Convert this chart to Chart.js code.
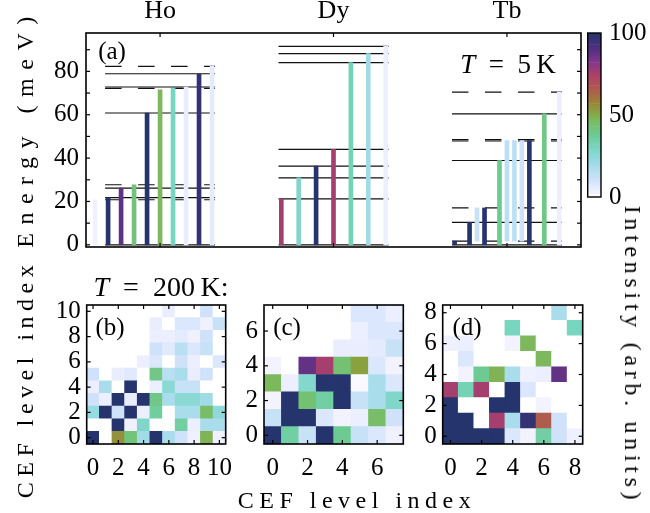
<!DOCTYPE html>
<html><head><meta charset="utf-8">
<script src="https://cdn.jsdelivr.net/npm/chart.js@4.4.1/dist/chart.umd.min.js"></script>
<style>
html,body{margin:0;padding:0;background:#fff;}
#wrap{position:relative;width:650px;height:513px;overflow:hidden;font-family:"Liberation Serif","Times New Roman",serif;color:#000;}
#wrap canvas{position:absolute;left:0;top:0;}
.lbl{position:absolute;white-space:nowrap;line-height:1;}
.ctr{transform:translate(-50%,-50%);}
.rot{transform:translate(-50%,-50%) rotate(-90deg);}
.rotcw{transform:translate(-50%,-50%) rotate(90deg);}
</style></head><body>
<div id="wrap">
<canvas id="cTop" width="650" height="513"></canvas>
<canvas id="cB" width="650" height="513"></canvas>
<canvas id="cC" width="650" height="513"></canvas>
<canvas id="cD" width="650" height="513"></canvas>
<canvas id="cBar" width="650" height="513"></canvas>
<div class="lbl rot" style="left:25px;top:128px;font-size:24px;letter-spacing:8.5px;">Energy (meV)</div>
<div class="lbl rot" style="left:25px;top:379px;font-size:24px;letter-spacing:5.5px;">CEF level index</div>
<div class="lbl ctr" style="left:357px;top:500px;font-size:24px;letter-spacing:5.5px;">CEF level index</div>
<div class="lbl rotcw" style="left:633px;top:355px;font-size:24px;letter-spacing:4.7px;">Intensity (arb. units)</div>
<div class="lbl ctr" style="left:112px;top:50px;font-size:25px;">(a)</div>
<div class="lbl ctr" style="left:508px;top:64px;font-size:27px;"><i>T</i>&ensp;=&ensp;5&thinsp;K</div>
<div class="lbl ctr" style="left:161px;top:287px;font-size:28px;"><i>T</i>&ensp;=&ensp;200&thinsp;K:</div>
<div class="lbl ctr" style="left:110px;top:326px;font-size:25px;">(b)</div>
<div class="lbl ctr" style="left:287px;top:326px;font-size:25px;">(c)</div>
<div class="lbl ctr" style="left:467px;top:326px;font-size:25px;">(d)</div>
</div>
<script>
// ---------------- DATA ----------------
const groups = ['Ho', 'Dy', 'Tb'];
const energyTicks = [0, 10, 20, 30, 40, 50, 60, 70, 80, 90];
const energyLabelStep = 20;

// Ho (T = 5 K): CEF levels (meV), dashed flags, transitions
const hoLevels  = [0, 20.8, 21.8, 26.2, 27.7, 60.8, 72.2, 72.8, 78.9, 82.3];
const hoDashed  = [false, true, false, false, true, false, true, false, false, true];
const hoBarBase = [0, 0, 0, 0, 0, 0, 0, 0, 0, 0];
const hoBarTop  = [20.8, 21.8, 26.2, 27.7, 60.8, 71.5, 72.3, 72.8, 78.8, 82.3];
const hoBarInt  = [3, 100, 88, 42, 100, 47, 30, 5, 97, 6];

// Dy
const dyLevels  = [0, 21.2, 30.9, 36.3, 44.0, 84.0, 88.2, 91.5];
const dyDashed  = [false, false, false, false, false, false, false, false];
const dyBarBase = [0, 0, 0, 0, 0, 0, 0];
const dyBarTop  = [21.2, 30.9, 36.3, 44.0, 84.0, 88.2, 91.5];
const dyBarInt  = [75, 28, 100, 75, 32, 20, 4];

// Tb
const tbLevels  = [0, 1.7, 10.4, 17.0, 38.9, 47.9, 48.5, 60.4, 70.4];
const tbDashed  = [false, true, false, true, false, true, true, false, true];
const tbBarBase = [0, 0, 1.7, 0, 0, 1.7, 1.7, 1.7, 0, 0, 0];
const tbBarTop  = [1.7, 10.4, 17.0, 17.0, 38.9, 48.1, 48.1, 48.1, 48.1, 60.4, 70.4];
const tbBarInt  = [100, 100, 12, 100, 38, 14, 14, 10, 100, 40, 4];

// T = 200 K intensity matrices, rows = y index (0 at bottom), columns = x index
const hoMatrix = [
  [100, 0, 55, 42, 20, 100, 18, 10, 3, 48, 3],
  [0, 0, 100, 3, 28, 0, 0, 35, 4, 18, 18],
  [22, 100, 10, 100, 4, 36, 0, 18, 18, 45, 24],
  [10, 4, 100, 5, 100, 40, 18, 25, 25, 20, 0],
  [4, 18, 0, 100, 0, 4, 25, 12, 12, 0, 0],
  [10, 0, 5, 7, 0, 40, 15, 18, 5, 10, 0],
  [0, 0, 0, 0, 4, 8, 0, 10, 4, 0, 8],
  [0, 0, 0, 0, 0, 10, 7, 15, 8, 12, 0],
  [0, 0, 0, 0, 0, 4, 4, 6, 3, 10, 0],
  [0, 0, 0, 0, 0, 5, 0, 8, 8, 3, 12],
  [0, 0, 0, 0, 0, 0, 5, 0, 0, 10, 0]
];
const dyMatrix = [
  [100, 35, 12, 100, 38, 12, 8, 3],
  [12, 100, 100, 8, 2, 4, 45, 10],
  [2, 100, 43, 35, 100, 12, 18, 28],
  [47, 4, 27, 100, 100, 1, 18, 8],
  [2, 0, 87, 75, 43, 52, 8, 2],
  [0, 0, 0, 0, 5, 5, 6, 12],
  [0, 0, 0, 0, 0, 4, 8, 8],
  [0, 0, 0, 0, 0, 8, 8, 4]
];
const tbMatrix = [
  [100, 100, 100, 100, 8, 2, 35, 10, 3],
  [100, 100, 0, 75, 18, 97, 65, 10, 0],
  [100, 0, 0, 100, 100, 0, 2, 0, 0],
  [75, 32, 75, 0, 100, 8, 0, 0, 0],
  [0, 2, 38, 48, 18, 3, 4, 87, 0],
  [0, 8, 0, 0, 0, 0, 47, 0, 0],
  [3, 4, 0, 0, 2, 47, 0, 0, 0],
  [0, 0, 0, 0, 30, 0, 0, 0, 30],
  [0, 0, 0, 0, 0, 0, 0, 18, 0]
];
const hoTicks = [0, 2, 4, 6, 8, 10];
const dyTicks = [0, 2, 4, 6];
const tbTicks = [0, 2, 4, 6, 8];
const colorbarTicks = [0, 50, 100];

// ---------------- LAYOUT / STYLE ----------------
const W = 650, H = 513;
const FONT = '"Liberation Serif", "Times New Roman", serif';
const BOX = {
  top: { l: 86, r: 581, t: 33, b: 247 },
  b:   { l: 86.7, r: 225.7, t: 305, b: 444 },
  c:   { l: 264, r: 403.3, t: 305, b: 444 },
  d:   { l: 442.7, r: 582.7, t: 305, b: 444 },
  bar: { l: 587.7, r: 601, t: 33, b: 197 }
};
const TOPX = { min: 0.573, max: 3.427 };
const TOPY = { min: -1, max: 97.7 };
const slotStep = [0.0749, 0.1003, 0.0431];
const slots = [
  [-5, -4, -3, -2, -1, 0, 1, 2, 3, 4],
  [-3, -2, -1, 0, 1, 2, 3],
  [-7, -5, -4, -3, -1, 0, 1, 2, 3, 5, 7]
];
const lineHalf = 0.317;

const cmapStops = [
  [0, [255, 255, 255]], [2, [243, 243, 255]], [6, [229, 235, 254]], [10, [208, 226, 250]],
  [16, [180, 222, 240]], [22, [150, 218, 226]], [30, [120, 214, 192]], [38, [108, 202, 146]],
  [46, [122, 188, 98]], [52, [138, 162, 62]], [58, [158, 128, 56]], [65, [174, 92, 76]],
  [73, [176, 66, 100]], [82, [132, 54, 140]], [90, [80, 48, 128]], [100, [38, 52, 110]]
];
function cmap(v) {
  for (let i = 1; i < cmapStops.length; i++) {
    const [v1, c1] = cmapStops[i];
    if (v <= v1) {
      const [v0, c0] = cmapStops[i - 1];
      const t = (v - v0) / (v1 - v0);
      const c = c0.map((a, k) => Math.round(a + (c1[k] - a) * t));
      return `rgb(${c[0]},${c[1]},${c[2]})`;
    }
  }
  const c = cmapStops[cmapStops.length - 1][1];
  return `rgb(${c[0]},${c[1]},${c[2]})`;
}

const frameTicks = {
  id: 'frameTicks',
  afterDraw(chart, args, opts) {
    const { ctx, chartArea: a, scales } = chart;
    ctx.save();
    ctx.strokeStyle = '#000';
    const L = opts.len || 4;
    ctx.lineWidth = 1.2;
    const ln = (x1, y1, x2, y2) => { ctx.beginPath(); ctx.moveTo(x1, y1); ctx.lineTo(x2, y2); ctx.stroke(); };
    (opts.xTicks || []).forEach(v => {
      const p = scales.x.getPixelForValue(v);
      ln(p, a.bottom, p, a.bottom - L); ln(p, a.top, p, a.top + L);
    });
    (opts.yTicks || []).forEach(v => {
      const p = scales.y.getPixelForValue(v);
      ln(a.left, p, a.left + L, p); ln(a.right, p, a.right - L, p);
    });
    ctx.lineWidth = opts.lw || 1.6;
    ctx.strokeRect(a.left, a.top, a.right - a.left, a.bottom - a.top);
    ctx.restore();
  }
};

const tickFont = { family: FONT, size: 25 };
const base = {
  responsive: false, animation: false, events: [], devicePixelRatio: 1,
};
const noGrid = { display: false, drawTicks: false };

// ---------------- TOP PANEL ----------------
const groupData = [
  { levels: hoLevels, dashed: hoDashed, base: hoBarBase, top: hoBarTop, inten: hoBarInt },
  { levels: dyLevels, dashed: dyDashed, base: dyBarBase, top: dyBarTop, inten: dyBarInt },
  { levels: tbLevels, dashed: tbDashed, base: tbBarBase, top: tbBarTop, inten: tbBarInt }
];
const topDatasets = [];
groupData.forEach((g, gi) => {
  const cx = gi + 1;
  g.levels.forEach((e, k) => topDatasets.push({
    type: 'line', data: [{ x: cx - lineHalf, y: e }, { x: cx + lineHalf, y: e }],
    borderColor: '#111', borderWidth: 1.2, borderDash: g.dashed[k] ? [16.5, 16.5] : [],
    pointRadius: 0, order: 2
  }));
  topDatasets.push({
    type: 'bar',
    data: g.top.map((t, i) => ({ x: cx + slots[gi][i] * slotStep[gi], y: [g.base[i], t] })),
    backgroundColor: g.inten.map(cmap), borderWidth: 0, barThickness: 4, grouped: false, order: 1
  });
});
new Chart(document.getElementById('cTop'), {
  type: 'bar',
  data: { datasets: topDatasets },
  options: {
    ...base,
    layout: { padding: { left: 0, top: 0, right: W - BOX.top.r, bottom: 0 } },
    plugins: { legend: { display: false }, tooltip: { enabled: false },
      frameTicks: { xTicks: [1, 2, 3], yTicks: energyTicks, len: 4 } },
    scales: {
      x: { type: 'linear', min: TOPX.min, max: TOPX.max, offset: false, grid: noGrid, border: { display: false },
        ticks: { display: false }, afterFit: s => { s.height = H - BOX.top.b; } },
      x2: { type: 'linear', position: 'top', min: TOPX.min, max: TOPX.max, offset: false, grid: noGrid, border: { display: false },
        afterBuildTicks: s => { s.ticks = groups.map((g, i) => ({ value: i + 1 })); },
        ticks: { callback: v => groups[Math.round(v) - 1], font: { family: FONT, size: 26 }, color: '#000', padding: 6, autoSkip: false, maxRotation: 0 },
        afterFit: s => { s.height = BOX.top.t; } },
      y: { type: 'linear', min: TOPY.min, max: TOPY.max, grid: noGrid, border: { display: false },
        afterBuildTicks: s => { s.ticks = energyTicks.map(v => ({ value: v })); },
        ticks: { callback: v => (v % energyLabelStep === 0 ? String(v) : ''), font: tickFont, color: '#000', padding: 7, autoSkip: false },
        afterFit: s => { s.width = BOX.top.l; } }
    }
  },
  plugins: [frameTicks]
});

// ---------------- HEATMAPS ----------------
function heatmap(id, box, matrix, ticks) {
  const n = matrix.length;
  const datasets = matrix.map((row, r) => ({
    data: row.map((v, c) => ({ x: c, y: [r - 0.5, r + 0.5] })),
    backgroundColor: row.map(cmap), borderWidth: 0,
    barPercentage: 1, categoryPercentage: 1, grouped: false
  }));
  new Chart(document.getElementById(id), {
    type: 'bar', data: { datasets },
    options: {
      ...base,
      layout: { padding: { left: 0, top: box.t, right: W - box.r, bottom: 0 } },
      plugins: { legend: { display: false }, tooltip: { enabled: false },
        frameTicks: { xTicks: ticks, yTicks: ticks, len: 4 } },
      scales: {
        x: { type: 'linear', min: -0.5, max: n - 0.5, offset: false, grid: noGrid, border: { display: false },
          afterBuildTicks: s => { s.ticks = ticks.map(v => ({ value: v })); },
          ticks: { font: tickFont, color: '#000', padding: 9, autoSkip: false, maxRotation: 0 },
          afterFit: s => { s.height = H - box.b; } },
        y: { type: 'linear', min: -0.5, max: n - 0.5, grid: noGrid, border: { display: false },
          afterBuildTicks: s => { s.ticks = ticks.map(v => ({ value: v })); },
          ticks: { font: tickFont, color: '#000', padding: 6, autoSkip: false },
          afterFit: s => { s.width = box.l; } }
      }
    },
    plugins: [frameTicks]
  });
}
heatmap('cB', BOX.b, hoMatrix, hoTicks);
heatmap('cC', BOX.c, dyMatrix, dyTicks);
heatmap('cD', BOX.d, tbMatrix, tbTicks);

// ---------------- COLORBAR ----------------
const cbSteps = [];
for (let v = 0; v < 100; v++) cbSteps.push(v);
new Chart(document.getElementById('cBar'), {
  type: 'bar',
  data: { datasets: cbSteps.map(v => ({
    data: [{ x: 0, y: [v, v + 1] }], backgroundColor: cmap(v + 0.5), borderWidth: 0,
    barPercentage: 1, categoryPercentage: 1, grouped: false })) },
  options: {
    ...base,
    layout: { padding: { left: BOX.bar.l, top: BOX.bar.t, right: 0, bottom: 0 } },
    plugins: { legend: { display: false }, tooltip: { enabled: false }, frameTicks: { len: 0, lw: 1.4 } },
    scales: {
      x: { type: 'linear', min: -0.5, max: 0.5, offset: false, grid: noGrid, border: { display: false },
        afterBuildTicks: s => { s.ticks = [{ value: 0 }]; },
        ticks: { display: false }, afterFit: s => { s.height = H - BOX.bar.b; } },
      y: { type: 'linear', position: 'right', min: 0, max: 100, grid: noGrid, border: { display: false },
        afterBuildTicks: s => { s.ticks = colorbarTicks.map(v => ({ value: v })); },
        ticks: { font: tickFont, color: '#000', padding: 8, autoSkip: false },
        afterFit: s => { s.width = W - BOX.bar.r; } }
    }
  },
  plugins: [frameTicks]
});
</script>
</body></html>
